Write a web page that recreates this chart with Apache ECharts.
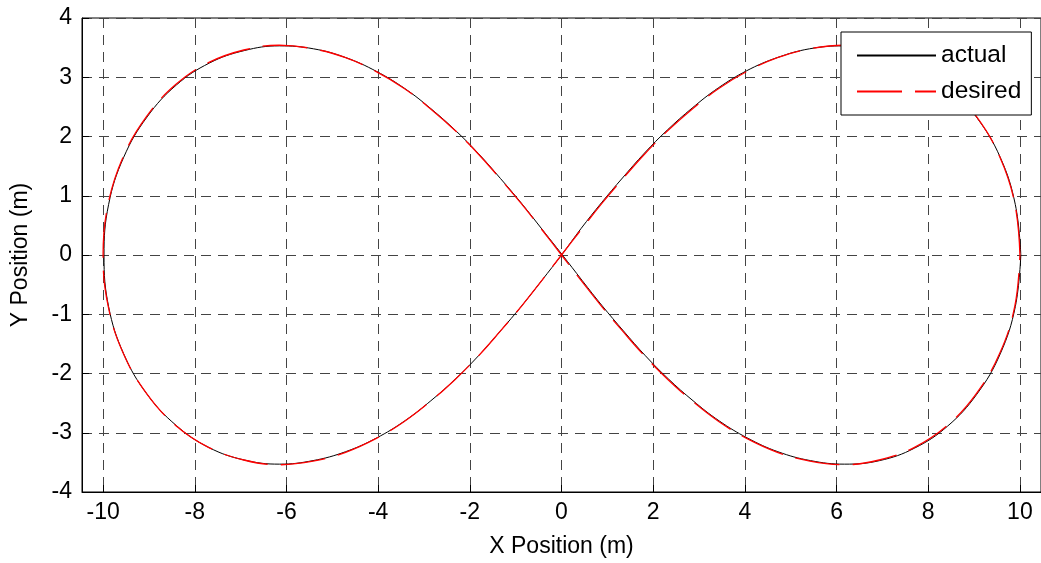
<!DOCTYPE html>
<html>
<head>
<meta charset="utf-8">
<script src="https://cdn.jsdelivr.net/npm/echarts@6/dist/echarts.min.js"></script>
<style>
html, body { margin: 0; padding: 0; background: #fff; }
#main { width: 1041px; height: 563px; }
</style>
</head>
<body>
<div id="main"></div>
<script>
// tick values
const xTicks = [-10, -8, -6, -4, -2, 0, 2, 4, 6, 8, 10]
const yTicks = [-4, -3, -2, -1, 0, 1, 2, 3, 4]

// desired path (going round the figure eight)
const desiredX = [
    10, 9.89, 9.56, 9.05, 8.41, 7.69, 6.93, 6.16, 5.42, 4.71, 4.05, 3.43, 2.86, 2.32, 1.82, 1.34, 0.88, 0.44, 0,
    -0.44, -0.88, -1.34, -1.82, -2.32, -2.86, -3.43, -4.05, -4.71, -5.42, -6.16, -6.93, -7.69, -8.41, -9.05, -9.56, -9.89, -10,
    -9.89, -9.56, -9.05, -8.41, -7.69, -6.93, -6.16, -5.42, -4.71, -4.05, -3.43, -2.86, -2.32, -1.82, -1.34, -0.88, -0.44, 0,
    0.44, 0.88, 1.34, 1.82, 2.32, 2.86, 3.43, 4.05, 4.71, 5.42, 6.16, 6.93, 7.69, 8.41, 9.05, 9.56, 9.89, 10
]
const desiredY = [
    0, 0.86, 1.66, 2.34, 2.88, 3.25, 3.46, 3.54, 3.48, 3.33, 3.10, 2.81, 2.47, 2.10, 1.71, 1.29, 0.87, 0.44, 0,
    -0.44, -0.87, -1.29, -1.71, -2.10, -2.47, -2.81, -3.10, -3.33, -3.48, -3.54, -3.46, -3.25, -2.88, -2.34, -1.66, -0.86, 0,
    0.86, 1.66, 2.34, 2.88, 3.25, 3.46, 3.54, 3.48, 3.33, 3.10, 2.81, 2.47, 2.10, 1.71, 1.29, 0.87, 0.44, 0,
    -0.44, -0.87, -1.29, -1.71, -2.10, -2.47, -2.81, -3.10, -3.33, -3.48, -3.54, -3.46, -3.25, -2.88, -2.34, -1.66, -0.86, 0
]

// actual path, sits almost on top of the desired one
const actualX = [
    10.02, 9.90, 9.57, 9.05, 8.42, 7.70, 6.92, 6.15, 5.41, 4.70, 4.04, 3.42, 2.85, 2.31, 1.81, 1.33, 0.87, 0.43, 0.01,
    -0.43, -0.87, -1.33, -1.81, -2.31, -2.85, -3.42, -4.04, -4.71, -5.42, -6.15, -6.92, -7.69, -8.40, -9.04, -9.55, -9.88, -9.98,
    -9.88, -9.55, -9.04, -8.40, -7.68, -6.92, -6.15, -5.41, -4.70, -4.04, -3.42, -2.85, -2.31, -1.81, -1.33, -0.87, -0.43, 0.01,
    0.45, 0.89, 1.35, 1.83, 2.33, 2.87, 3.44, 4.06, 4.72, 5.43, 6.17, 6.94, 7.70, 8.42, 9.06, 9.57, 9.90, 10.02
]
const actualY = [
    0, 0.85, 1.65, 2.33, 2.87, 3.24, 3.46, 3.53, 3.48, 3.33, 3.11, 2.82, 2.48, 2.11, 1.72, 1.30, 0.88, 0.45, 0.01,
    -0.43, -0.86, -1.28, -1.70, -2.09, -2.46, -2.80, -3.09, -3.32, -3.47, -3.53, -3.46, -3.25, -2.88, -2.35, -1.67, -0.87, -0.01,
    0.85, 1.65, 2.33, 2.87, 3.24, 3.45, 3.53, 3.48, 3.33, 3.10, 2.81, 2.47, 2.10, 1.71, 1.29, 0.87, 0.44, 0.01,
    -0.43, -0.86, -1.28, -1.70, -2.09, -2.46, -2.80, -3.09, -3.32, -3.47, -3.53, -3.47, -3.26, -2.89, -2.35, -1.67, -0.87, 0
]

function pairs(xs, ys) {
    return xs.map((x, i) => [x, ys[i]])
}

let myChart = echarts.init(document.getElementById('main'))
let font = 'Liberation Sans, Arial, sans-serif'
let option = {
    animation: false,
    backgroundColor: '#fff',
    textStyle: { fontFamily: font },
    grid: {
        left: 82,
        right: -4,
        top: 18,
        bottom: 70,
        show: true,
        borderColor: '#000',
        borderWidth: 1,
        backgroundColor: 'transparent'
    },
    legend: {
        data: ['actual', 'desired'],
        orient: 'vertical',
        left: 841,
        top: 32,
        padding: [11, 10, 11, 15],
        itemWidth: 79,
        itemHeight: 14,
        itemGap: 11,
        itemTextGap: 12,
        backgroundColor: '#fff',
        borderColor: '#000',
        borderWidth: 1,
        borderRadius: 0,
        itemStyle: { color: 'transparent', borderWidth: 0 },
        textStyle: { fontSize: 24.5, color: '#000', fontFamily: font }
    },
    xAxis: {
        type: 'value',
        min: -10.46,
        max: 10.46,
        name: 'X Position (m)',
        nameLocation: 'middle',
        nameGap: 43,
        nameTextStyle: { fontSize: 23, color: '#000', fontFamily: font },
        axisLine: { show: true, onZero: false, lineStyle: { color: '#000', width: 1 } },
        axisTick: { show: true, inside: true, length: 7, customValues: xTicks, lineStyle: { color: '#000' } },
        axisLabel: { customValues: xTicks, fontSize: 23, color: '#000', margin: 9, fontFamily: font },
        splitLine: { show: true, lineStyle: { color: '#444', width: 1, type: [10, 7] } }
    },
    yAxis: {
        type: 'value',
        min: -4,
        max: 4,
        interval: 1,
        name: 'Y Position (m)',
        nameLocation: 'middle',
        nameGap: 50,
        nameTextStyle: { fontSize: 23, color: '#000', fontFamily: font },
        axisLine: { show: true, onZero: false, lineStyle: { color: '#000', width: 1 } },
        axisTick: { show: true, inside: true, length: 7, lineStyle: { color: '#000' } },
        axisLabel: { fontSize: 23, color: '#000', margin: 10, fontFamily: font },
        splitLine: { show: true, lineStyle: { color: '#444', width: 1, type: [10, 7] } }
    },
    series: [
        {
            name: 'actual',
            type: 'line',
            data: pairs(actualX, actualY),
            symbol: 'none',
            smooth: 0.4,
            lineStyle: { color: '#000', width: 1 },
            itemStyle: { color: '#000' }
        },
        {
            name: 'desired',
            type: 'line',
            data: pairs(desiredX, desiredY),
            symbol: 'none',
            smooth: 0.4,
            lineStyle: { color: '#ff0000', width: 1.3, type: [45, 13] },
            itemStyle: { color: '#ff0000' }
        }
    ]
}
myChart.setOption(option)
</script>
</body>
</html>
